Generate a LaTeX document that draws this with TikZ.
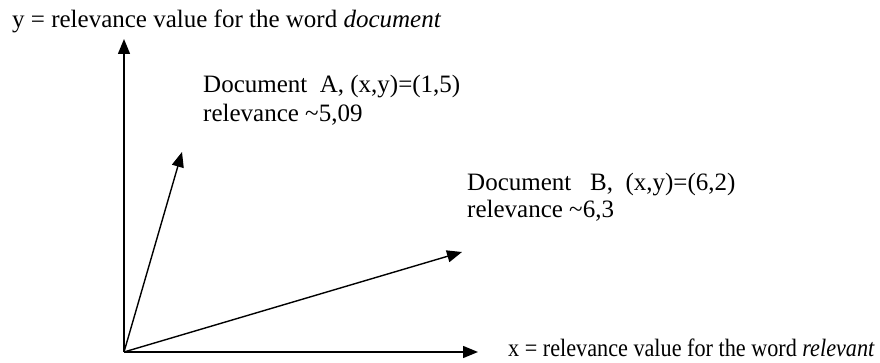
\documentclass[tikz,border=0pt]{standalone}
\usepackage{fontspec}
\setmainfont{Liberation Serif}
\usetikzlibrary{arrows.meta}
\begin{document}
\begin{tikzpicture}[x=1pt,y=-1pt,
  vec/.style={line width=1.4pt,-{Triangle[length=15pt,width=12pt]}},
  lbl/.style={anchor=base west,inner sep=0pt,font=\fontsize{25}{29}\selectfont}]
\useasboundingbox (0,0) rectangle (880,363);
\coordinate (O) at (124,352);
\coordinate (Y) at (124,39);
\coordinate (X) at (478,352);
\coordinate (A) at (182,152);
\coordinate (B) at (462,252);
\draw[vec] (O) -- (Y);
\draw[vec] (O) -- (X);
\draw[vec] (O) -- (A);
\draw[vec] (O) -- (B);
\node[lbl] (ylab) at (12,28) {y = relevance value for the word \textit{document}};
\node[lbl] (xlab) at (508,356) {\scalebox{0.888}[1]{x = relevance value for the word \textit{relevant}}};
\node[lbl] (a1) at (203,93) {Document\ \ A, (x,y)=(1,5)};
\node[lbl] (a2) at (203,122) {relevance \textasciitilde5,09};
\node[lbl] (b1) at (467,191) {Document\ \ \ B,\ \ (x,y)=(6,2)};
\node[lbl] (b2) at (467,218) {relevance \textasciitilde6,3};
\end{tikzpicture}
\end{document}
